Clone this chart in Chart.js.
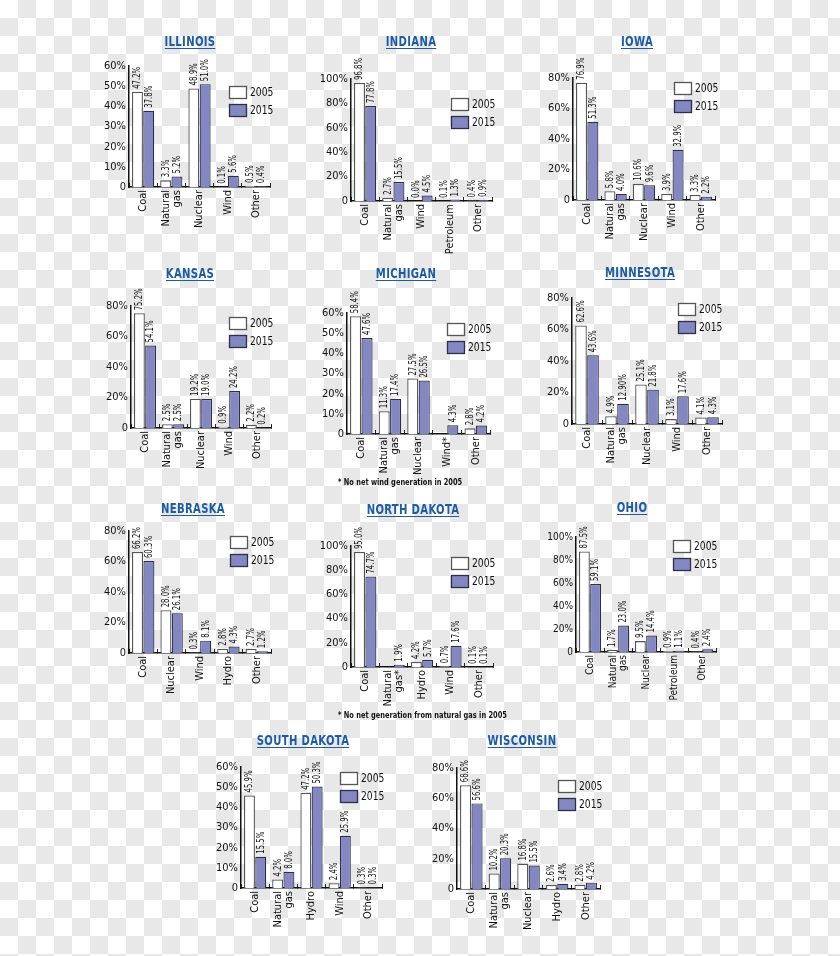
<!DOCTYPE html>
<html>
<head>
<meta charset="utf-8">
<script src="https://cdn.jsdelivr.net/npm/chart.js@4.4.1/dist/chart.umd.min.js"></script>
<style>
  html, body { margin: 0; padding: 0; }
  body {
    width: 840px; height: 956px; position: relative; overflow: hidden;
    background: repeating-conic-gradient(#e8e8e8 0 25%, #fff 0 50%) 0 0 / 36px 36px;
    font-family: 'DejaVu Sans Condensed', 'Liberation Sans', sans-serif;
  }
  canvas { position: absolute; }
  .title {
    position: absolute; transform: translateX(-50%) scaleX(0.8);
    font-weight: bold; font-size: 14px; letter-spacing: 0.4px; line-height: 16px;
    color: #1d5ba6; text-decoration: underline; text-underline-offset: 2px;
    white-space: nowrap;
  }
  .note {
    position: absolute; font-weight: bold; font-size: 9px; color: #111; white-space: nowrap;
    transform: scaleX(0.82); transform-origin: left top;
  }
</style>
</head>
<body>
<script>
const FONT = "'DejaVu Sans Condensed', 'Liberation Sans', sans-serif";
Chart.defaults.font.family = FONT;
Chart.defaults.color = '#111';

const years = ['2005', '2015'];

const illinoisCats = ['Coal', ['Natural', 'gas'], 'Nuclear', 'Wind', 'Other'];
const illinois2005 = [47.2, 3.3, 48.9, 0.1, 0.5];
const illinois2015 = [37.8, 5.2, 51.0, 5.6, 0.4];

const indianaCats = ['Coal', ['Natural', 'gas'], 'Wind', 'Petroleum', 'Other'];
const indiana2005 = [96.8, 2.7, 0.0, 0.1, 0.4];
const indiana2015 = [77.8, 15.5, 4.5, 1.3, 0.9];

const iowaCats = ['Coal', ['Natural', 'gas'], 'Nuclear', 'Wind', 'Other'];
const iowa2005 = [76.9, 5.8, 10.6, 3.9, 3.3];
const iowa2015 = [51.3, 4.0, 9.6, 32.9, 2.2];

const kansasCats = ['Coal', ['Natural', 'gas'], 'Nuclear', 'Wind', 'Other'];
const kansas2005 = [75.2, 2.5, 19.2, 0.9, 2.2];
const kansas2015 = [54.1, 2.5, 19.0, 24.2, 0.2];

const michiganCats = ['Coal', ['Natural', 'gas'], 'Nuclear', 'Wind*', 'Other'];
const michigan2005 = [58.4, 11.3, 27.5, null, 2.8];
const michigan2015 = [47.6, 17.4, 26.5, 4.3, 4.2];

const minnesotaCats = ['Coal', ['Natural', 'gas'], 'Nuclear', 'Wind', 'Other'];
const minnesota2005 = [62.6, 4.9, 25.1, 3.1, 4.1];
const minnesota2015 = [43.6, 12.9, 21.8, 17.6, 4.3];

const nebraskaCats = ['Coal', 'Nuclear', 'Wind', 'Hydro', 'Other'];
const nebraska2005 = [66.2, 28.0, 0.3, 2.8, 2.7];
const nebraska2015 = [60.3, 26.1, 8.1, 4.3, 1.2];

const northDakotaCats = ['Coal', ['Natural', 'gas*'], 'Hydro', 'Wind', 'Other'];
const northDakota2005 = [95.0, null, 4.2, 0.7, 0.1];
const northDakota2015 = [74.7, 1.9, 5.7, 17.6, 0.1];

const ohioCats = ['Coal', ['Natural', 'gas'], 'Nuclear', 'Petroleum', 'Other'];
const ohio2005 = [87.5, 1.7, 9.5, 0.9, 0.4];
const ohio2015 = [59.1, 23.0, 14.4, 1.1, 2.4];

const southDakotaCats = ['Coal', ['Natural', 'gas'], 'Hydro', 'Wind', 'Other'];
const southDakota2005 = [45.9, 4.2, 47.2, 2.4, 0.3];
const southDakota2015 = [15.5, 8.0, 50.3, 25.9, 0.3];

const wisconsinCats = ['Coal', ['Natural', 'gas'], 'Nuclear', 'Hydro', 'Other'];
const wisconsin2005 = [68.6, 10.2, 16.8, 2.6, 2.8];
const wisconsin2015 = [56.6, 20.3, 15.5, 3.4, 4.2];

// box = [axis x, top tick y, right end x, zero y] in page pixels
const charts = [
  {name: 'ILLINOIS', cats: illinoisCats, a: illinois2005, b: illinois2015, max: 60, step: 10,
   box: [129, 66, 270, 187], title: [190, 41], legend: [229, 86]},
  {name: 'INDIANA', cats: indianaCats, a: indiana2005, b: indiana2015, max: 100, step: 20,
   box: [351, 79, 492, 201], title: [411, 41], legend: [451, 98]},
  {name: 'IOWA', cats: iowaCats, a: iowa2005, b: iowa2015, max: 80, step: 20,
   box: [573, 78, 715, 200], title: [637, 41], legend: [674, 82]},
  {name: 'KANSAS', cats: kansasCats, a: kansas2005, b: kansas2015, max: 80, step: 20,
   box: [131, 306, 271, 428], title: [190, 273], legend: [229, 317]},
  {name: 'MICHIGAN', cats: michiganCats, a: michigan2005, b: michigan2015, max: 60, step: 10,
   box: [347, 313, 490, 434], title: [406, 273], legend: [447, 323],
   note: '* No net wind generation in 2005', notePos: [338, 477]},
  {name: 'MINNESOTA', cats: minnesotaCats, a: minnesota2005, b: minnesota2015, max: 80, step: 20,
   box: [572, 298, 722, 424], title: [640, 272], legend: [678, 303], text15: {1: '12.90%'}},
  {name: 'NEBRASKA', cats: nebraskaCats, a: nebraska2005, b: nebraska2015, max: 80, step: 20,
   box: [129, 531, 271, 653], title: [193, 508], legend: [230, 536]},
  {name: 'NORTH DAKOTA', cats: northDakotaCats, a: northDakota2005, b: northDakota2015, max: 100, step: 20,
   box: [351, 546, 493, 667], title: [413, 509], legend: [451, 557],
   note: '* No net generation from natural gas in 2005', notePos: [338, 710]},
  {name: 'OHIO', cats: ohioCats, a: ohio2005, b: ohio2015, max: 100, step: 20,
   box: [576, 537, 716, 652], title: [632, 507], legend: [673, 540], font: 10},
  {name: 'SOUTH DAKOTA', cats: southDakotaCats, a: southDakota2005, b: southDakota2015, max: 60, step: 10,
   box: [241, 767, 382, 888], title: [303, 740], legend: [340, 772]},
  {name: 'WISCONSIN', cats: wisconsinCats, a: wisconsin2005, b: wisconsin2015, max: 80, step: 20,
   box: [457, 768, 600, 889], title: [522, 740], legend: [558, 780]},
];

// rotated value labels above each bar, squeezed to look condensed
const valueLabels = {
  id: 'valueLabels',
  afterDatasetsDraw(chart, args, opts) {
    const ctx = chart.ctx;
    ctx.save();
    ctx.font = '11px ' + FONT;
    ctx.fillStyle = '#111';
    ctx.textAlign = 'left';
    ctx.textBaseline = 'middle';
    chart.data.datasets.forEach((ds, di) => {
      chart.getDatasetMeta(di).data.forEach((bar, i) => {
        const v = ds.data[i];
        if (v === null) return;
        let txt = v.toFixed(1) + '%';
        if (di === 1 && opts.text15 && opts.text15[i]) txt = opts.text15[i];
        ctx.save();
        ctx.translate(bar.x, bar.y - 3);
        ctx.rotate(-Math.PI / 2);
        ctx.scale(0.7, 1);
        ctx.fillText(txt, 0, 0);
        ctx.restore();
      });
    });
    ctx.restore();
  }
};

// small boxed legend sitting inside the plot
const boxLegend = {
  id: 'boxLegend',
  afterDraw(chart, args, opts) {
    const ctx = chart.ctx;
    ctx.save();
    ctx.font = '12px ' + FONT;
    ctx.textBaseline = 'middle';
    chart.data.datasets.forEach((ds, i) => {
      const y = opts.y + i * 18;
      ctx.fillStyle = ds.backgroundColor;
      ctx.fillRect(opts.x, y, 18, 12);
      ctx.strokeStyle = ds.borderColor;
      ctx.lineWidth = 1.3;
      ctx.strokeRect(opts.x + 0.5, y + 0.5, 17, 12);
      ctx.fillStyle = '#111';
      ctx.save();
      ctx.translate(opts.x + 21, y + 7);
      ctx.scale(0.85, 1);
      ctx.fillText(ds.label, 0, 0);
      ctx.restore();
    });
    ctx.restore();
  }
};

// two-line category labels: centre both lines on the category
const centerLines = {
  id: 'centerLines',
  beforeDraw(chart) {
    chart.scales.x.getLabelItems().forEach(it => {
      if (Array.isArray(it.label) && !it.shifted) {
        it.options.translation[0] -= (it.label.length - 1) * it.font.lineHeight / 2;
        it.shifted = true;
      }
    });
  }
};

function makeChart(c) {
  const [x0, yTop, x1, y0] = c.box;
  const padL = 44, padT = 30, padR = 30, padB = 70;
  const left = x0 - padL, top = yTop - padT;
  const canvas = document.createElement('canvas');
  canvas.width = x1 - x0 + padL + padR;
  canvas.height = y0 - yTop + padT + padB;
  canvas.style.left = left + 'px';
  canvas.style.top = top + 'px';
  document.body.appendChild(canvas);

  const t = document.createElement('div');
  t.className = 'title';
  t.textContent = c.name;
  t.style.left = c.title[0] + 'px';
  t.style.top = (c.title[1] - 8) + 'px';
  document.body.appendChild(t);

  if (c.note) {
    const n = document.createElement('div');
    n.className = 'note';
    n.textContent = c.note;
    n.style.left = c.notePos[0] + 'px';
    n.style.top = c.notePos[1] + 'px';
    document.body.appendChild(n);
  }

  const fs = c.font || 11;
  new Chart(canvas, {
    type: 'bar',
    data: {
      labels: c.cats,
      datasets: [
        {label: years[0], data: c.a, backgroundColor: '#ffffff', borderColor: '#555555',
         borderWidth: 1.3, categoryPercentage: 0.8, barPercentage: 0.97},
        {label: years[1], data: c.b, backgroundColor: '#8388c2', borderColor: '#2d2e48',
         borderWidth: 1.2, categoryPercentage: 0.8, barPercentage: 0.97}
      ]
    },
    options: {
      responsive: false,
      animation: false,
      layout: {padding: {left: 4, top: padT, right: padR, bottom: 4}},
      plugins: {
        legend: {display: false},
        tooltip: {enabled: false},
        valueLabels: {text15: c.text15},
        boxLegend: {x: c.legend[0] - left, y: c.legend[1] - top}
      },
      scales: {
        x: {
          grid: {display: true, offset: true, drawOnChartArea: false, tickLength: -4, color: '#222', lineWidth: 1},
          border: {display: true, color: '#111', width: 1.5},
          ticks: {autoSkip: false, minRotation: 90, maxRotation: 90, padding: 7, color: '#111',
                  font: {size: fs, lineHeight: 1.0}},
          afterFit(s) { s.height = 66; }
        },
        y: {
          min: 0, max: c.max,
          grid: {display: false, drawTicks: false},
          border: {display: true, color: '#111', width: 1.5},
          ticks: {stepSize: c.step, padding: 3, color: '#111', font: {size: fs},
                  callback: v => v === 0 ? '0' : v + '%'},
          afterFit(s) { s.width = 40; }
        }
      }
    },
    plugins: [valueLabels, boxLegend, centerLines]
  });
}

charts.forEach(makeChart);
</script>
</body>
</html>
